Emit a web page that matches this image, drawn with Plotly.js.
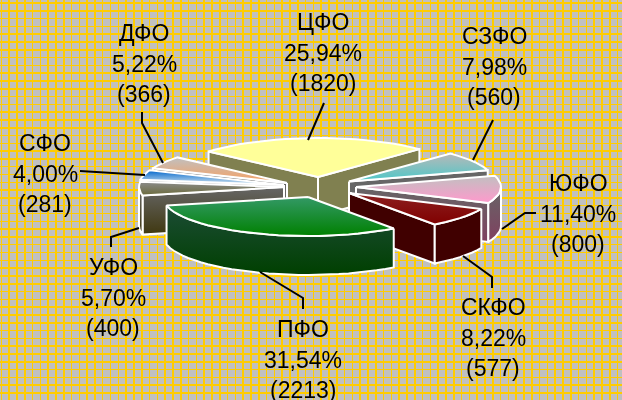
<!DOCTYPE html>
<html><head><meta charset="utf-8">
<script src="https://cdn.plot.ly/plotly-3.0.1.min.js"></script>
<style>
html,body{margin:0;padding:0;width:622px;height:400px;overflow:hidden;background:#C0C0C0;}
#bg{position:absolute;left:0;top:0;}
#c{position:absolute;left:0;top:0;width:622px;height:400px;}
</style></head><body><canvas id="bg" width="622" height="400"></canvas><div id="c"></div>
<script>
const regions=['ЦФО','СЗФО','ЮФО','СКФО','ПФО','УФО','СФО','ДФО'];
const percents=['25,94%','7,98%','11,40%','8,22%','31,54%','5,70%','4,00%','5,22%'];
const counts=[1820,560,800,577,2213,400,281,366];
const apexX=[318,349,356,349,308,284,284,287];
const apexY=[177,181.5,187,193,197,187,185,183];
const topColors=[['#FFFF99','#FFFF99'],['#B8B8B8','#4CC8C8'],['#C0C0C0','#FF99CC'],['#8C2020','#800000'],['#339966','#008000'],['#8C8C8C','#6A6A3A'],['#0066CC','#D8E8F0'],['#C0C0C0','#F8A060']];
const wallColors=[['#808050','#808050'],['#666666','#666666'],['#666666','#804060'],['#400000','#400000'],['#1C4C36','#004000'],['#666666','#403810'],['#666666','#666666'],['#666666','#666666']];
const drawOrder=[0,7,6,5,1,2,3,4];
const labelX=[323,494,578,493,303,113,45,144];
const labelY=[22,36,183,307,329,267,143,33];
const leaders=[[[308,140],[324,103]],[[473,160],[493,120]],[[502,229],[525,213],[536,213]],[[463,256],[492,277],[492,288]],[[260,272],[303,298],[303,309]],[[139,228],[111,237],[111,247]],[[145,175],[80,171]],[[163,163],[142,123],[142,112]]];

// patterned backdrop
const g=document.getElementById('bg').getContext('2d');
g.fillStyle='#C0C0C0';g.fillRect(0,0,622,400);g.fillStyle='#FFCC00';
for(let k=0;k<81;k++){const a=Math.round(0.6+k*7.8),b=Math.round(0.6+k*7.8+1.5);g.fillRect(a,0,b-a,400);}
for(let k=0;k<53;k++){const a=Math.round(2.2+k*7.8),b=Math.round(2.2+k*7.8+1.5);g.fillRect(0,a,622,b-a);}

const rx=145,ry=39,depth=39,startAngle=-49,lineGap=30.6;
const total=counts.reduce((a,b)=>a+b,0);
const rad=d=>d*Math.PI/180;
let acc=startAngle;
const wedges=counts.map((v,i)=>{const a0=acc;acc+=v/total*360;return {a0,a1:acc,ax:apexX[i],ay:apexY[i]};});
const rim=(w,a)=>[w.ax+rx*Math.sin(rad(a)),w.ay-ry*Math.cos(rad(a))];
function poly(xs,ys,cols){
  const y0=Math.min(...ys),y1=Math.max(...ys);
  return {type:'scatter',mode:'lines',x:[...xs,xs[0]],y:[...ys,ys[0]],fill:'toself',
    fillgradient:{type:'vertical',start:y0,stop:y1,colorscale:[[0,cols[0]],[1,cols[1]]]},
    line:{color:'#FFFFFF',width:2},hoverinfo:'skip',showlegend:false};
}
const traces=[];
drawOrder.forEach(i=>{const w=wedges[i];
  const face=(pts)=>{const xs=pts.map(p=>p[0]),ys=pts.map(p=>p[1]);
    const down=pts.slice().reverse().map(p=>[p[0],p[1]+depth]);
    traces.push(poly([...xs,...down.map(p=>p[0])],[...ys,...down.map(p=>p[1])],wallColors[i]));};
  const apex=[w.ax,w.ay];
  if(Math.sin(rad(w.a0))<0) face([apex,rim(w,w.a0)]);
  if(Math.sin(rad(w.a1))>0) face([apex,rim(w,w.a1)]);
  const f0=Math.max(w.a0,90),f1=Math.min(w.a1,270);
  if(f1>f0){const p=[];for(let a=f0;a<f1;a+=4)p.push(rim(w,a));p.push(rim(w,f1));face(p);}
  const tp=[apex];for(let a=w.a0;a<w.a1;a+=4)tp.push(rim(w,a));tp.push(rim(w,w.a1));
  traces.push(poly(tp.map(p=>p[0]),tp.map(p=>p[1]),topColors[i]));
});
const annotations=[];
regions.forEach((r,i)=>{[r,percents[i],'('+counts[i]+')'].forEach((t,k)=>{
  annotations.push({x:labelX[i],y:labelY[i]+k*lineGap,text:t,showarrow:false,xanchor:'center',yanchor:'middle',
    font:{family:'"Liberation Sans",Arial,sans-serif',size:23,color:'#000'}});});});
const shapes=leaders.map(l=>({type:'path',layer:'above',path:'M'+l.map(p=>p.join(',')).join('L'),line:{color:'#000',width:2}}));
Plotly.newPlot('c',traces,{width:622,height:400,margin:{l:0,r:0,t:0,b:0},
  paper_bgcolor:'rgba(0,0,0,0)',plot_bgcolor:'rgba(0,0,0,0)',showlegend:false,
  xaxis:{range:[0,622],visible:false,fixedrange:true},yaxis:{range:[400,0],visible:false,fixedrange:true},
  annotations,shapes},{displayModeBar:false,staticPlot:true});
</script></body></html>
